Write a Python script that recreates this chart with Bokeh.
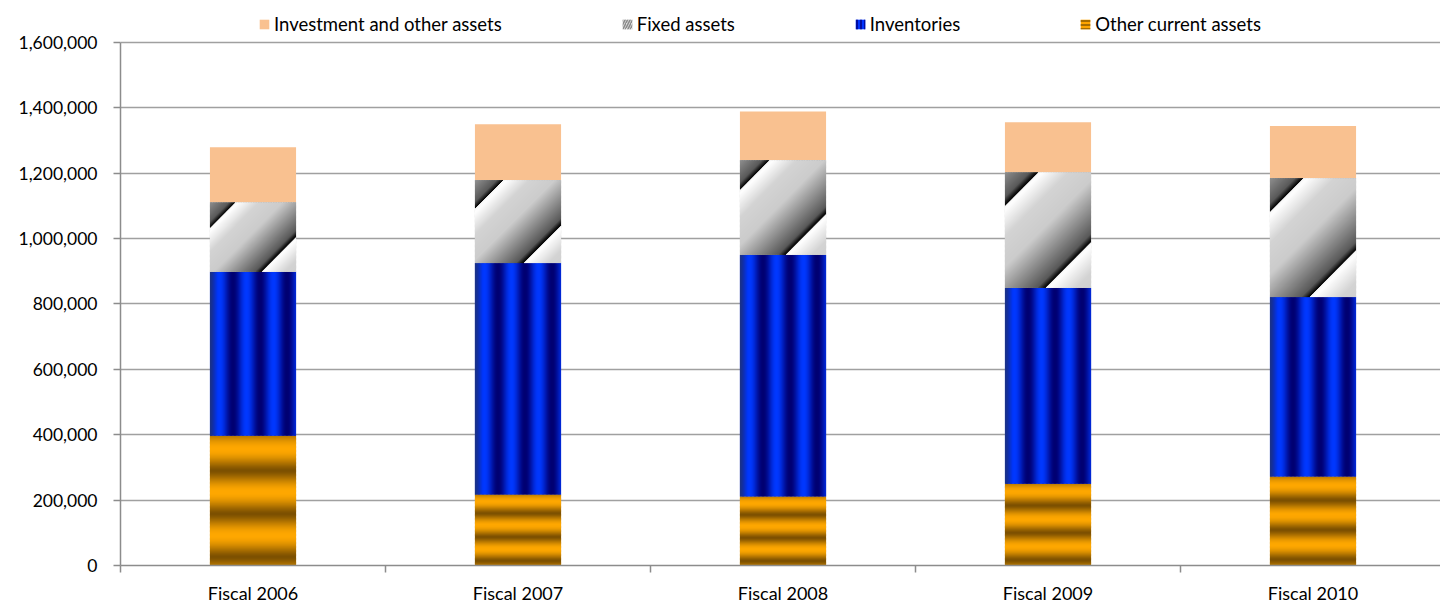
import numpy as np
from bokeh.plotting import figure
from bokeh.models import (ColumnDataSource, Range1d, FixedTicker, NumeralTickFormatter,
                          Legend, LegendItem)
from bokeh.embed import file_html
from bokeh.resources import INLINE

# ---- data ----
categories = ["Fiscal 2006", "Fiscal 2007", "Fiscal 2008", "Fiscal 2009", "Fiscal 2010"]
other_current = [397000, 217000, 211000, 250000, 272000]
inventories = [501000, 708000, 739000, 599000, 549000]
fixed_assets = [213000, 254000, 290000, 354000, 364000]
investment_other = [168000, 171000, 149000, 153000, 159000]
y_ticks = [0, 200000, 400000, 600000, 800000, 1000000, 1200000, 1400000, 1600000]

# ---- layout constants ----
W, H = 1440, 606
Y_MAX = 1600000
FRAME_W = W - 120
PLOT_TOP, PLOT_BOTTOM = 42, 566          # pixel rows of 1,600,000 and 0
PX_PER_Y = (PLOT_BOTTOM - PLOT_TOP) / Y_MAX
Y_TOP = PLOT_BOTTOM / PX_PER_Y           # frame reaches the top of the canvas (room for legend)
X_MAX = FRAME_W / 265
PX_PER_X = FRAME_W / X_MAX
bw = 0.325


def mix(c0, c1, t):
    c0 = np.array(c0, float); c1 = np.array(c1, float)
    return c0 + (c1 - c0) * t[..., None]


def to_rgba(rgb):
    rgb = np.clip(rgb, 0, 255).astype(np.uint32)
    h, w, _ = rgb.shape
    img = np.empty((h, w), dtype=np.uint32)
    v = img.view(dtype=np.uint8).reshape((h, w, 4))
    v[:, :, 0] = rgb[:, :, 0]; v[:, :, 1] = rgb[:, :, 1]; v[:, :, 2] = rgb[:, :, 2]; v[:, :, 3] = 255
    return img


def tex_orange(h, w):
    # bands scale with the segment height (about 3 per segment)
    s = (np.arange(h)[::-1] + 0.5) / h          # 0 at top of the segment
    t = 0.5 + 0.5 * np.cos(2 * np.pi * (s - 0.11) / 0.33)
    t = t ** 0.7
    col = mix((0x7C, 0x50, 0x00), (0xFF, 0xA8, 0x00), t)
    return np.repeat(col[:, None, :], w, axis=1)


def tex_blue(h, w):
    c = np.arange(w)
    t = 0.5 + 0.5 * np.cos(2 * np.pi * (c - 9) / 27.0)
    col = mix((0x00, 0x00, 0x72), (0x00, 0x38, 0xFF), t)
    edge = np.clip(1 - c / 7.0, 0, 1) * 0.55
    col = col + (np.array([0x30, 0x50, 0x80], float) - col) * edge[:, None]
    return np.repeat(col[None, :, :], h, axis=0)


def tex_gray(h, w):
    rr, cc = np.mgrid[0:h, 0:w]
    ys = (h - 1) - rr  # screen y from the top of the segment
    s = (cc + ys) / float(w + h)
    u = ((s - 0.165) / 0.605) % 1.0
    v = np.interp(u, [0.0, 0.03, 0.25, 0.5, 0.93, 0.985, 1.0],
                  [0.97, 1.0, 0.83, 0.80, 0.35, 0.05, 0.05])
    return (v[..., None] * 255).repeat(3, axis=2)


x = np.arange(len(categories)) + 0.5
s1 = np.array(other_current, float)
s2 = s1 + np.array(inventories)
s3 = s2 + np.array(fixed_assets)
s4 = s3 + np.array(investment_other)
src = ColumnDataSource(dict(x=x, b0=np.zeros(len(x)), t1=s1, t2=s2, t3=s3, t4=s4))

p = figure(width=W, height=H, output_backend="svg", toolbar_location=None,
           x_range=Range1d(0, X_MAX), y_range=Range1d(0, Y_TOP),
           min_border_left=120, min_border_right=0, min_border_top=0, min_border_bottom=H - PLOT_BOTTOM)
p.outline_line_color = None
p.xgrid.visible = False
p.ygrid.grid_line_color = "#A0A0A0"
p.ygrid.grid_line_width = 1.5

o0 = p.vbar(x="x", bottom="b0", top="t1", width=bw, source=src, fill_color="#FFA500", line_color=None,
            hatch_pattern="horizontal_line", hatch_scale=4, hatch_weight=1.5, hatch_color="#8B5A00")
i0 = p.vbar(x="x", bottom="t1", top="t2", width=bw, source=src, fill_color="#0033FF", line_color=None,
            hatch_pattern="vertical_line", hatch_scale=4, hatch_weight=1.5, hatch_color="#000080")
f0 = p.vbar(x="x", bottom="t2", top="t3", width=bw, source=src, fill_color="#DADADA", line_color=None,
            hatch_pattern="right_diagonal_line", hatch_scale=5, hatch_weight=1.5, hatch_color="#8A8A8A")
v0 = p.vbar(x="x", bottom="t3", top="t4", width=bw, source=src, fill_color="#F9C190", line_color=None)

imgs, ix, iy, idw, idh = [], [], [], [], []
for bottoms, tops, fn in ((np.zeros(len(x)), s1, tex_orange), (s1, s2, tex_blue), (s2, s3, tex_gray)):
    for xi, b, t in zip(x, bottoms, tops):
        hpx = max(1, int(round((t - b) * PX_PER_Y)))
        wpx = int(round(bw * PX_PER_X))
        imgs.append(to_rgba(fn(hpx, wpx)))
        ix.append(xi - bw / 2); iy.append(b); idw.append(bw); idh.append(t - b)
p.image_rgba(image=imgs, x=ix, y=iy, dw=idw, dh=idh)

p.yaxis.ticker = FixedTicker(ticks=y_ticks)
p.yaxis.bounds = (0, Y_MAX)
p.yaxis.formatter = NumeralTickFormatter(format="0,0")
p.yaxis.axis_line_color = "#8C8C8C"
p.yaxis.axis_line_width = 1.5
p.yaxis.major_tick_line_color = "#8C8C8C"
p.yaxis.major_tick_line_width = 1.5
p.yaxis.major_tick_out = 7
p.yaxis.major_tick_in = 0
p.yaxis.minor_tick_line_color = None
p.yaxis.major_label_standoff = 16
p.yaxis.major_label_text_font = "Lato"
p.yaxis.major_label_text_font_size = "17.5px"
p.yaxis.major_label_text_color = "#000000"

p.xaxis.ticker = FixedTicker(ticks=list(x), minor_ticks=list(range(len(categories) + 1)))
p.xaxis.major_label_overrides = {float(xi): c for xi, c in zip(x, categories)}
p.xaxis.axis_line_color = "#8C8C8C"
p.xaxis.axis_line_width = 1.5
p.xaxis.major_tick_line_color = None
p.xaxis.minor_tick_line_color = "#8C8C8C"
p.xaxis.minor_tick_line_width = 1.5
p.xaxis.minor_tick_out = 7
p.xaxis.minor_tick_in = 0
p.xaxis.major_label_standoff = 9
p.xaxis.major_label_text_font = "Lato"
p.xaxis.major_label_text_font_size = "18px"
p.xaxis.major_label_text_color = "#000000"

legend = Legend(items=[
    LegendItem(label="Investment and other assets", renderers=[v0]),
    LegendItem(label="Fixed assets", renderers=[f0]),
    LegendItem(label="Inventories", renderers=[i0]),
    LegendItem(label="Other current assets", renderers=[o0]),
], orientation="horizontal", location=(138, PLOT_BOTTOM - 36), border_line_alpha=0,
    background_fill_alpha=0, label_text_font="Lato", label_text_font_size="18.5px",
    label_text_color="#000000",
    glyph_width=12, glyph_height=12, spacing=119, padding=0, margin=0, label_standoff=4,
    label_height=20)
p.add_layout(legend)

open("out.html", "w").write(file_html(p, INLINE))
